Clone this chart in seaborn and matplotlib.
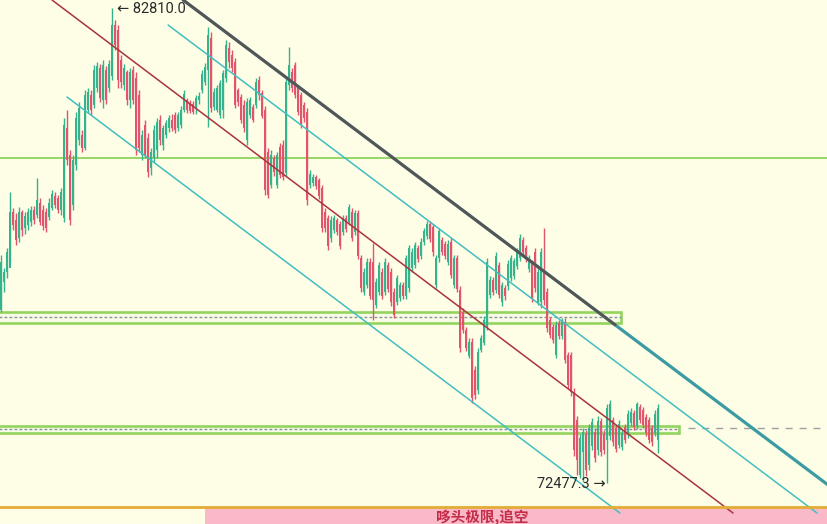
import numpy as np
import pandas as pd
import matplotlib
matplotlib.use("Agg")
import matplotlib.pyplot as plt
import seaborn as sns

# ---------------- data (price candles) ----------------
opens = [76242, 76851, 77069, 77155, 78374, 78199, 77808, 78374, 78025, 78090,
         78156, 78417, 78308, 78569, 78417, 78374, 78265, 78460, 78722, 78678,
         78417, 78243, 80200, 79613, 78525, 79395, 79939, 80048, 79765, 80592,
         80918, 80700, 81070, 81505, 80809, 81462, 81070, 81332, 82440, 82332,
         81679, 81135, 81419, 80809, 81462, 81288, 80918, 79613, 80265, 79983,
         79330, 79548, 79722, 80374, 79830, 80048, 80200, 80374, 80483, 80200,
         80265, 80592, 80809, 80744, 80722, 80657, 80809, 81027, 81201, 81462,
         82158, 80657, 80592, 80483, 80592, 81288, 81940, 81788, 81636, 81027,
         80875, 80700, 79939, 80483, 80657, 80700, 81244, 80962, 80592, 79679,
         78960, 79548, 78960, 79787, 79830, 79222, 81135, 81419, 81570, 81070,
         80918, 80700, 80549, 78960, 79004, 79135, 79069, 78895, 78374, 78243,
         77808, 77982, 78199, 78112, 77939, 78243, 78156, 78374, 77939, 78352,
         77373, 76634, 76785, 77286, 77286, 76350, 76634, 77069, 76634, 77220,
         77069, 76634, 76416, 76503, 76785, 76547, 76720, 77155, 77220, 77590,
         77417, 77721, 77852, 78112, 78047, 76785, 77373, 77764, 77677, 77286,
         77721, 76785, 77373, 76677, 76199, 75807, 75242, 75546, 74937, 74502,
         75372, 75524, 75894, 76568, 76894, 76677, 77220, 76416, 76720, 76764,
         76938, 76982, 77199, 77373, 77764, 77590, 77134, 77242, 77504, 76416,
         76416, 77112, 76634, 76024, 75872, 75263, 75959, 75677, 75981, 75263,
         75263, 74459, 73849, 72653, 73154, 73545, 72870, 73284, 73589, 73197,
         73827, 73545, 73414, 73502, 73849, 73675, 73305, 73262, 73697, 73523,
         73784, 74002, 73719, 74132, 74067, 73915, 73849, 73675, 73567, 73414]

closes = [77286, 77069, 77504, 78374, 78090, 77764, 78374, 77982, 78287, 78374,
          78417, 78199, 78634, 78156, 78069, 78025, 78569, 78765, 78525, 78417,
          78809, 80265, 79504, 78199, 79504, 80418, 80635, 79765, 80918, 80984,
          80592, 81462, 81549, 80853, 81570, 80809, 81592, 82440, 82005, 81244,
          81201, 81505, 80809, 81419, 80809, 79722, 79765, 80048, 79613, 79244,
          79679, 80157, 80331, 79939, 80200, 80309, 80418, 80200, 80157, 80483,
          80592, 80940, 80592, 80570, 80549, 80853, 80897, 81375, 81527, 82223,
          80635, 80984, 81070, 81179, 81397, 82005, 81636, 81505, 80700, 80766,
          80374, 80200, 80766, 80809, 80374, 81201, 80918, 80462, 78852, 78743,
          79613, 79244, 79613, 79178, 79135, 81201, 81570, 81070, 80918, 80549,
          80265, 80418, 78634, 79200, 79135, 78939, 78722, 78025, 78025, 77634,
          78199, 78243, 77939, 77634, 78243, 78003, 78482, 77808, 78352, 77417,
          76720, 77069, 77286, 76547, 76459, 76851, 77220, 76547, 77286, 76698,
          76416, 76133, 76938, 76785, 76547, 77373, 77590, 77504, 77655, 77351,
          77721, 77960, 78112, 77786, 77504, 77373, 77960, 77504, 77417, 77677,
          77003, 77373, 76698, 75415, 75807, 75415, 75546, 74328, 74393, 75329,
          75633, 76024, 77286, 76894, 76634, 77417, 76568, 76785, 76547, 77242,
          77373, 77307, 77525, 77808, 77504, 77351, 77373, 76503, 76720, 77069,
          77504, 76459, 75850, 75698, 75589, 75915, 75677, 76002, 75154, 74610,
          74459, 73197, 72979, 73458, 73589, 72762, 73676, 73806, 73023, 73827,
          73154, 73197, 74110, 74197, 73371, 73218, 73762, 73567, 73414, 73980,
          74024, 73697, 74197, 73849, 73740, 73567, 73414, 73371, 73980, 74110]

highs = [77438, 77155, 77590, 78809, 78460, 78352, 78482, 78417, 78374, 78460,
         78504, 78504, 79113, 78678, 78525, 78460, 78678, 78852, 78809, 78743,
         78895, 80418, 80592, 79722, 79613, 80549, 80766, 80157, 81027, 81070,
         81027, 81570, 81636, 81592, 81679, 81549, 81679, 82810, 82549, 82440,
         81788, 81592, 81462, 81505, 81549, 81419, 81027, 80157, 80374, 80092,
         79765, 80265, 80418, 80483, 80265, 80374, 80483, 80505, 80549, 80549,
         80679, 81027, 80853, 80809, 80787, 80918, 80984, 81462, 81614, 82397,
         82289, 81070, 81135, 81244, 81462, 82114, 82071, 81897, 81723, 81070,
         80940, 80809, 80853, 80875, 80722, 81288, 81332, 81027, 80679, 79765,
         79722, 79613, 79679, 79874, 79939, 81288, 81962, 81505, 81636, 81135,
         80984, 80766, 80635, 79287, 79200, 79178, 79113, 78960, 78460, 78308,
         78287, 78308, 78243, 78177, 78308, 78308, 78547, 78460, 78417, 78417,
         77438, 77155, 77373, 77373, 77699, 76938, 77286, 77155, 77373, 77286,
         77155, 76720, 77003, 76851, 76851, 77438, 77655, 77590, 77721, 77655,
         77808, 78025, 78177, 78177, 78112, 77438, 78025, 77830, 77742, 77764,
         77808, 77438, 77438, 76764, 76285, 75872, 75633, 75633, 75024, 75415,
         75698, 76112, 77373, 76982, 76960, 77504, 77286, 76851, 76785, 77329,
         77438, 77373, 77590, 77895, 77830, 77655, 77438, 77329, 77590, 77155,
         77590, 78025, 76720, 76090, 75937, 76002, 76024, 76068, 76068, 75329,
         75329, 74545, 73937, 73545, 73675, 73632, 73762, 73893, 73676, 73937,
         73893, 73632, 74197, 74284, 73915, 73740, 73849, 73632, 73762, 74067,
         74110, 74067, 74241, 74197, 74132, 73980, 73915, 73740, 74067, 74197]

lows = [76199, 76634, 76938, 77286, 77982, 77655, 77721, 77852, 77895, 77982,
        78069, 78112, 78243, 78090, 77982, 77939, 78199, 78417, 78460, 78352,
        78308, 78156, 79395, 78090, 78417, 79287, 79830, 79679, 79722, 80527,
        80483, 80635, 80984, 80766, 80635, 80722, 80984, 81244, 81897, 81070,
        81070, 81027, 80700, 80635, 80722, 79613, 79679, 79504, 79548, 79135,
        79178, 79461, 79548, 79830, 79722, 79983, 80114, 80135, 80092, 80135,
        80200, 80549, 80527, 80527, 80505, 80505, 80722, 80962, 81135, 80222,
        80549, 80592, 80549, 80418, 80418, 81201, 81505, 81419, 80635, 80679,
        80309, 80114, 79830, 80418, 80331, 80635, 80809, 80418, 78743, 78678,
        78895, 79157, 78895, 79113, 79069, 79157, 81027, 80984, 80853, 80483,
        80200, 80331, 78525, 78895, 78939, 78873, 78656, 77939, 77939, 77547,
        77721, 77917, 77873, 77568, 77873, 77939, 78090, 77742, 77873, 77351,
        76634, 76568, 76720, 76481, 76024, 76285, 76568, 76481, 76568, 76634,
        76329, 76068, 76350, 76437, 76481, 76481, 76634, 77069, 77155, 77286,
        77351, 77655, 77786, 77721, 77417, 76720, 77286, 77438, 77351, 77220,
        76938, 76720, 76634, 75329, 75742, 75350, 75198, 74219, 74306, 74415,
        75329, 75480, 75807, 76503, 76568, 76612, 76503, 76329, 76459, 76677,
        76872, 76916, 77134, 77307, 77438, 77286, 77069, 76416, 76634, 76350,
        76285, 76350, 75764, 75633, 75524, 75198, 75611, 75611, 75089, 74545,
        74372, 73067, 72653, 72588, 72501, 72632, 72762, 73197, 72936, 73088,
        73067, 73110, 72477.3, 73414, 73284, 73154, 73240, 73197, 73349, 73458,
        73719, 73632, 73653, 73784, 73675, 73501, 73349, 73284, 73501, 73132]

# horizontal levels (price)
level_line = 79548
zone_upper = [75959, 76090, 76199]   # bottom, dotted middle, top
zone_lower = [73567, 73653, 73719]
zone_upper_end = 206.7               # candle index where box ends
zone_lower_end = 226.0
floor_line = 71957

# trend lines: start index, start price, end index, end price
trend_x0 = [60.7, 55.7, 17.0, 22.0]
trend_p0 = [82984, 82440, 82984, 80874]
trend_x1 = [275.7, 272.0, 244.0, 206.3]
trend_p1 = [72435, 71826, 71826, 71826]

hi_label = "\u2190 82810.0"
lo_label = "72477.3 \u2192"
banner = "哆头极限,追空"

# ---------------- figure ----------------
sns.set_theme(style="white")
plt.rcParams['font.family'] = ['Roboto', 'DejaVu Sans']

BG = "#fefde6"
GREEN = "#35b38c"
RED = "#e2546c"

df = pd.DataFrame({"open": opens, "high": highs, "low": lows, "close": closes})
df["idx"] = np.arange(len(df))
df["up"] = df["close"] >= df["open"]

fig = plt.figure(figsize=(8.28, 5.24), dpi=100, facecolor=BG)
ax = fig.add_axes([0, 0, 1, 1])
ax.set_facecolor(BG)
ax.set_xlim(-1 / 3, 827 / 3)
ax.set_ylim(71587, 82984)
ax.axis("off")

# horizontal green level
ax.axhline(level_line, color="#8fd35c", lw=1.3, zorder=1)

# zones
for (b, m, t), xe in [(zone_upper, zone_upper_end), (zone_lower, zone_lower_end)]:
    ax.add_patch(plt.Rectangle((-1, b), xe + 1, t - b, facecolor="#f8fce4",
                               edgecolor="#93d45f", lw=1.9, zorder=2))
    ax.hlines(m, -1, xe, colors="#8c8ca0", lw=1.0, linestyles=(0, (2, 1.6)), zorder=2.5)
ax.hlines(zone_lower[1] + 22, 229, 280, colors="#a0a0a0", lw=1.0,
          linestyles=(0, (5, 5)), zorder=2)

# candles
cols = np.where(df["up"], GREEN, RED)
ax.vlines(df["idx"], df["low"], df["high"], colors=cols, lw=1.0, zorder=3)
body_lo = np.minimum(df["open"], df["close"])
body_h = np.maximum(np.abs(df["close"] - df["open"]), 25)
ax.bar(df["idx"], body_h, bottom=body_lo, width=0.72, color=cols, lw=0, zorder=3)

# trend lines
styles = [("#3b9ba2", 2.3), ("#42bec2", 1.1), ("#a8343c", 1.1), ("#42bec2", 1.1)]
for (c, w), x0, p0, x1, p1 in zip(styles, trend_x0, trend_p0, trend_x1, trend_p1):
    sns.lineplot(x=[x0, x1], y=[p0, p1], ax=ax, color=c, lw=w, zorder=4)
# dark overlay on the upper part of the top line
frac = (204.7 - trend_x0[0]) / (trend_x1[0] - trend_x0[0])
sns.lineplot(x=[trend_x0[0], 204.7],
             y=[trend_p0[0], trend_p0[0] + frac * (trend_p1[0] - trend_p0[0])],
             ax=ax, color="#5a5252", lw=2.0, zorder=4.5)

# bottom floor and banner
ax.axhline(floor_line, color="#e3ac34", lw=2.0, zorder=5)
ax.add_patch(plt.Rectangle((68, 71400), 220, 71935 - 71400,
                           facecolor="#f9b9c9", edgecolor="none", zorder=3.5))
ax.text(160.5, 71740, banner, ha="center", va="center", fontsize=10.5,
        fontweight="bold", color="#c42c48",
        family=["Noto Sans CJK SC", "DejaVu Sans"], zorder=6)

# extreme labels
ax.text(38.6, 82790, hi_label, ha="left", va="center", fontsize=10.5,
        color="#2a2a2a", family=["Roboto", "DejaVu Sans"], zorder=6)
ax.text(201.5, 72457, lo_label, ha="right", va="center", fontsize=10.5,
        color="#2a2a2a", family=["Roboto", "DejaVu Sans"], zorder=6)

fig.savefig("out.png", dpi=100, facecolor=BG)
